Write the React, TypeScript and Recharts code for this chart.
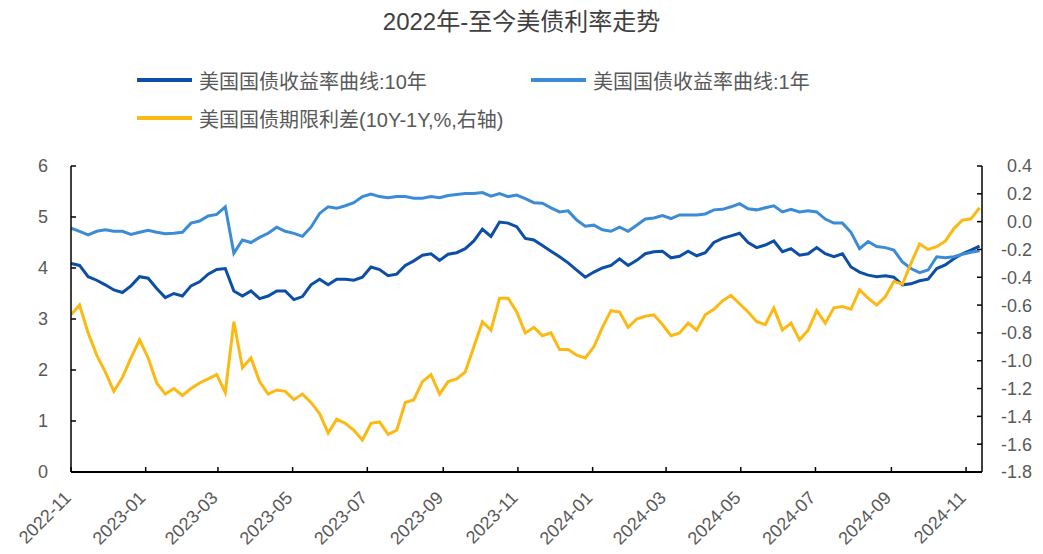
import { LineChart, Line, XAxis, YAxis } from 'recharts'

const DAY = 86400000
const START = Date.UTC(2022, 10, 1)
const END = Date.UTC(2024, 10, 14)

const monthTicks = [
  '2022-11', '2023-01', '2023-03', '2023-05', '2023-07', '2023-09', '2023-11',
  '2024-01', '2024-03', '2024-05', '2024-07', '2024-09', '2024-11',
]

const leftTicks = [0, 1, 2, 3, 4, 5, 6]
const rightTicks = [-1.8, -1.6, -1.4, -1.2, -1.0, -0.8, -0.6, -0.4, -0.2, 0.0, 0.2, 0.4]

// weekly readings, starting 2022-11-01
const yield10y = [
  4.09, 4.05, 3.83, 3.76, 3.67, 3.57, 3.52, 3.65, 3.83, 3.80, 3.60, 3.42, 3.50, 3.45, 3.65, 3.73, 3.88, 3.97, 3.99,
  3.55, 3.45, 3.55, 3.40, 3.45, 3.55, 3.55, 3.38, 3.44, 3.67, 3.78, 3.67, 3.78, 3.78, 3.76, 3.82, 4.02,
  3.97, 3.85, 3.88, 4.05, 4.14, 4.25, 4.28, 4.15, 4.27, 4.30, 4.38, 4.53, 4.76, 4.62, 4.90, 4.88, 4.81, 4.58,
  4.55, 4.44, 4.33, 4.22, 4.10, 3.96, 3.82, 3.92, 4.00, 4.05, 4.18, 4.05, 4.15, 4.28, 4.32, 4.33, 4.20, 4.23,
  4.33, 4.24, 4.30, 4.50, 4.58, 4.63, 4.68, 4.50, 4.40, 4.45, 4.53, 4.32, 4.38, 4.25, 4.28, 4.40, 4.28, 4.22,
  4.28, 4.02, 3.92, 3.86, 3.83, 3.85, 3.82, 3.67, 3.69, 3.75, 3.78, 3.99, 4.06, 4.18, 4.28, 4.35, 4.43,
]

const yield1y = [
  4.78, 4.72, 4.65, 4.72, 4.75, 4.72, 4.72, 4.66, 4.70, 4.74, 4.70, 4.67, 4.68, 4.70, 4.88, 4.92, 5.02, 5.05, 5.20,
  4.29, 4.55, 4.50, 4.60, 4.68, 4.80, 4.72, 4.68, 4.62, 4.80, 5.07, 5.20, 5.17, 5.22, 5.28, 5.40, 5.45,
  5.40, 5.38, 5.40, 5.40, 5.37, 5.37, 5.40, 5.38, 5.42, 5.44, 5.46, 5.46, 5.48, 5.41, 5.46, 5.40, 5.43, 5.36,
  5.28, 5.27, 5.18, 5.10, 5.12, 4.94, 4.82, 4.84, 4.75, 4.72, 4.80, 4.72, 4.84, 4.96, 4.98, 5.03, 4.97, 5.04,
  5.04, 5.04, 5.06, 5.14, 5.15, 5.20, 5.26, 5.16, 5.14, 5.18, 5.22, 5.10, 5.15, 5.10, 5.12, 5.10, 4.96, 4.88,
  4.88, 4.70, 4.38, 4.52, 4.42, 4.40, 4.35, 4.12, 3.99, 3.91, 3.96, 4.22, 4.20, 4.22, 4.27, 4.31, 4.34,
]

const spread = [
  -0.67, -0.60, -0.80, -0.96, -1.08, -1.22, -1.12, -0.98, -0.85, -0.98, -1.16, -1.24, -1.20, -1.25, -1.20, -1.16, -1.13, -1.10, -1.23,
  -0.72, -1.05, -0.98, -1.15, -1.24, -1.21, -1.22, -1.28, -1.24, -1.30, -1.38, -1.52, -1.42, -1.45, -1.50, -1.57, -1.45,
  -1.44, -1.53, -1.50, -1.30, -1.28, -1.15, -1.10, -1.24, -1.15, -1.13, -1.08, -0.90, -0.72, -0.78, -0.55, -0.55, -0.65, -0.80,
  -0.76, -0.82, -0.80, -0.92, -0.92, -0.96, -0.98, -0.90, -0.76, -0.64, -0.65, -0.76, -0.70, -0.68, -0.67, -0.74, -0.82, -0.80,
  -0.73, -0.78, -0.67, -0.63, -0.57, -0.53, -0.59, -0.65, -0.72, -0.74, -0.62, -0.78, -0.73, -0.85, -0.78, -0.64, -0.73, -0.62,
  -0.61, -0.63, -0.49, -0.55, -0.60, -0.54, -0.43, -0.45, -0.30, -0.16, -0.20, -0.18, -0.14, -0.05, 0.01, 0.02, 0.10,
]

const C10 = '#0d4ea6'
const C1 = '#3b8bd6'
const CSP = '#fdb913'
const FONT = "'Liberation Sans', Arial, 'Noto Sans CJK SC', sans-serif"
const TXT = '#595959'

const data = yield10y.map((v, i) => ({
  t: START + i * 7 * DAY,
  y10: v,
  y1: yield1y[i],
  sp: spread[i],
}))

const xTicks = monthTicks.map((m) => {
  const [y, mo] = m.split('-').map(Number)
  return Date.UTC(y, mo - 1, 1)
})

function label(t: number) {
  const d = new Date(t)
  return `${d.getUTCFullYear()}-${String(d.getUTCMonth() + 1).padStart(2, '0')}`
}

function XTick({ x, y, payload }: any) {
  const ax = x + 1
  const ay = y + 27
  return (
    <g>
      <line x1={x} y1={y} x2={x} y2={y - 5} stroke="#000" strokeWidth={1.5} />
      <text
        x={ax}
        y={ay}
        transform={`rotate(-45 ${ax} ${ay})`}
        textAnchor="end"
        fontSize={18}
        fill={TXT}
        fontFamily={FONT}
      >
        {label(payload.value)}
      </text>
    </g>
  )
}

function LeftTick({ x, y, payload }: any) {
  return (
    <g>
      <line x1={x} y1={y} x2={x + 5} y2={y} stroke="#000" strokeWidth={1.5} />
      <text x={x - 23} y={y} dy="0.36em" textAnchor="end" fontSize={18} fill={TXT} fontFamily={FONT}>
        {payload.value}
      </text>
    </g>
  )
}

function RightTick({ x, y, payload }: any) {
  return (
    <g>
      <line x1={x} y1={y} x2={x - 5} y2={y} stroke="#000" strokeWidth={1.5} />
      <text x={x + 50} y={y} dy="0.36em" textAnchor="end" fontSize={18} fill={TXT} fontFamily={FONT}>
        {Number(payload.value).toFixed(1)}
      </text>
    </g>
  )
}

const legendItems = [
  { name: '美国国债收益率曲线:10年', color: C10, left: 137, top: 80 },
  { name: '美国国债收益率曲线:1年', color: C1, left: 531, top: 80 },
  { name: '美国国债期限利差(10Y-1Y,%,右轴)', color: CSP, left: 137, top: 118 },
]

export default function App() {
  return (
    <div style={{ position: 'absolute', left: 0, top: 0, width: 1043, height: 554, background: '#fff', fontFamily: FONT }}>
      <div
        style={{
          position: 'absolute',
          top: 7,
          left: 0,
          width: 1043,
          textAlign: 'center',
          fontSize: 24,
          color: '#404040',
          lineHeight: '30px',
        }}
      >
        2022年-至今美债利率走势
      </div>
      {legendItems.map((it) => (
        <div
          key={it.name}
          style={{
            position: 'absolute',
            left: it.left,
            top: it.top - 14,
            height: 28,
            display: 'flex',
            alignItems: 'center',
            fontSize: 20,
            color: TXT,
            whiteSpace: 'nowrap',
          }}
        >
          <span style={{ display: 'inline-block', width: 55, height: 4, background: it.color, marginRight: 7 }} />
          {it.name}
        </div>
      ))}
      <LineChart width={1043} height={554} data={data} margin={{ top: 166, right: 6, bottom: 0, left: 21 }}>
        <XAxis
          dataKey="t"
          type="number"
          domain={[START, END]}
          ticks={xTicks}
          interval={0}
          height={82}
          tickSize={0}
          tickMargin={0}
          tickLine={false}
          tick={<XTick />}
          axisLine={{ stroke: '#000', strokeWidth: 2 }}
          allowDataOverflow
        />
        <YAxis
          yAxisId="left"
          domain={[0, 6]}
          ticks={leftTicks}
          interval={0}
          width={50}
          tickSize={0}
          tickMargin={0}
          tickLine={false}
          tick={<LeftTick />}
          axisLine={{ stroke: '#000', strokeWidth: 1.5 }}
        />
        <YAxis
          yAxisId="right"
          orientation="right"
          domain={[-1.8, 0.4]}
          ticks={rightTicks}
          interval={0}
          width={55}
          tickSize={0}
          tickMargin={0}
          tickLine={false}
          tick={<RightTick />}
          axisLine={{ stroke: '#000', strokeWidth: 1.5 }}
          allowDataOverflow
        />
        <Line yAxisId="left" type="linear" dataKey="y10" stroke={C10} strokeWidth={3} dot={false} isAnimationActive={false} />
        <Line yAxisId="left" type="linear" dataKey="y1" stroke={C1} strokeWidth={3} dot={false} isAnimationActive={false} />
        <Line yAxisId="right" type="linear" dataKey="sp" stroke={CSP} strokeWidth={3} dot={false} isAnimationActive={false} />
      </LineChart>
    </div>
  )
}
